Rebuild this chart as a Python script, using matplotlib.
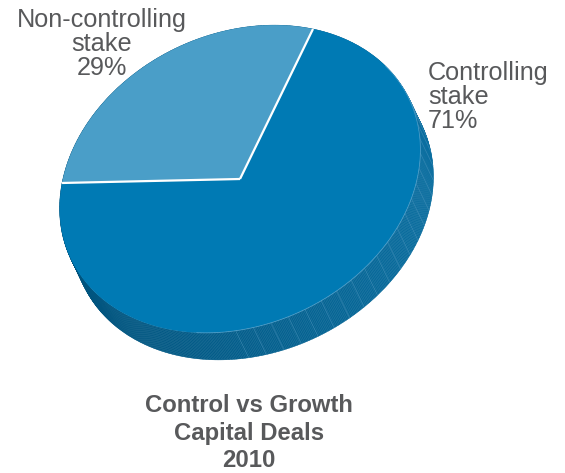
import numpy as np
import matplotlib
matplotlib.use("Agg")
import matplotlib.pyplot as plt
from matplotlib.patches import Polygon
from matplotlib.colors import to_rgb

# ---- data ----
categories = ["Non-controlling\nstake", "Controlling\nstake"]
shares = [29, 71]
title_lines = ["Control vs Growth", "Capital Deals", "2010"]

# ---- style / layout ----
top_colors = ["#4a9ec8", "#007ab4"]
side_light = np.array(to_rgb("#0a6ea0"))
side_dark = np.array(to_rgb("#00537d"))
text_color = "#58595b"
W, H = 565, 473
cx, cy = 240, 179
M = np.array([[165.0, 73.0], [-34.4, 150.0]])   # projection of unit disc
depth = np.array([13.0, 27.0])                  # extrusion (pixels, right/down)

fig = plt.figure(figsize=(W / 100, H / 100), dpi=100)
ax = fig.add_axes([0, 0, 1, 1])
ax.set_xlim(0, W)
ax.set_ylim(H, 0)
ax.axis("off")


def top_pt(phi_deg):
    p = np.radians(phi_deg)
    v = M @ np.array([np.cos(p), np.sin(p)])
    return np.stack([cx + v[0], cy - v[1]], axis=-1)


# angle edges from data
total = sum(shares)
edges = 90 + 360 * np.concatenate([[0], np.cumsum(shares)]) / total

# ---- side (extrusion) ----
nseg = 720
phis = np.linspace(0, 360, nseg + 1)
for a0, a1 in zip(phis[:-1], phis[1:]):
    t0 = top_pt(a0); t1 = top_pt(a1)
    mid = 0.5 * (a0 + a1)
    t = (1 + np.cos(np.radians(mid - 30))) / 2
    col = side_dark + t * (side_light - side_dark)
    ax.add_patch(Polygon([t0, t1, t1 + depth, t0 + depth], closed=True,
                         facecolor=col, edgecolor=col, linewidth=0.3, zorder=1))

# facet lines on the side
for a in np.arange(-67.5, 50, 360 / 64):
    t0 = top_pt(a)
    ax.plot([t0[0], t0[0] + depth[0]], [t0[1], t0[1] + depth[1]],
            color="#4f97c0", lw=0.5, alpha=0.55, zorder=2)

# ---- top face ----
for i, (s, e) in enumerate(zip(edges[:-1], edges[1:])):
    arc = top_pt(np.linspace(s, e, 300))
    pts = np.vstack([[cx, cy], arc])
    ax.add_patch(Polygon(pts, closed=True, facecolor=top_colors[i],
                         edgecolor="none", zorder=3))

# rim highlight
rim = top_pt(np.linspace(-80, 60, 300))
ax.plot(rim[:, 0], rim[:, 1], color="#6fb0d6", lw=0.6, alpha=0.6, zorder=4)

# white separators
for a in edges[:-1]:
    p = top_pt(a)
    ax.plot([cx, p[0]], [cy, p[1]], color="white", lw=1.6, zorder=5,
            solid_capstyle="butt")

# ---- labels ----
font = ["Liberation Sans", "DejaVu Sans"]
ax.text(102, 44, f"{categories[0]}\n{shares[0]}%", ha="center", va="center",
        fontsize=18.2, color=text_color, family=font, linespacing=1.02)
ax.text(428, 97, f"{categories[1]}\n{shares[1]}%", ha="left", va="center",
        fontsize=18.2, color=text_color, family=font, linespacing=1.02)

ax.text(249, 433, "\n".join(title_lines), ha="center", va="center",
        fontsize=17.2, color=text_color, family=font, fontweight="bold",
        linespacing=1.25)

fig.savefig("out.png", dpi=100)
